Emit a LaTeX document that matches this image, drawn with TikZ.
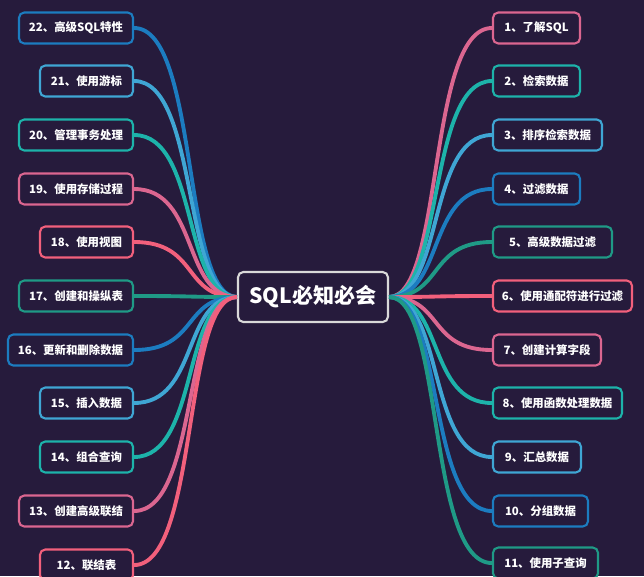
\documentclass[tikz,border=0pt]{standalone}
\usepackage{fontspec}
\setmainfont{Noto Sans CJK SC}
\usetikzlibrary{positioning}
\definecolor{bg}{HTML}{261B3C}
\definecolor{cblue}{HTML}{1C7CC0}
\definecolor{clight}{HTML}{3FA6D4}
\definecolor{cteal}{HTML}{1DB3AA}
\definecolor{cpink}{HTML}{DB6690}
\definecolor{cred}{HTML}{F2607C}
\definecolor{cdark}{HTML}{1F9A86}

\begin{document}
\begin{tikzpicture}[x=0.02cm, y=-0.02cm, topic/.style={rounded corners=3pt, line width=1.2pt, fill=bg, text=white, font=\bfseries\fontsize{6.5}{8}\selectfont, minimum height=0.62cm, inner xsep=4pt}, root/.style={rounded corners=3pt, draw=white!85!black, line width=1.2pt, fill=bg, text=white, font=\bfseries\fontsize{12}{14}\selectfont, minimum width=3cm, minimum height=1cm}]

    \fill[bg] (0,0) rectangle (644,576);
    \useasboundingbox (0,0) rectangle (644,576);

    %Nodes
    \node[root](center) at (313,297){SQL必知必会};

    \foreach \n/\y/\xl/\c/\t in {22/28/19/cblue/高级SQL特性, 21/81/40/clight/使用游标, 20/135/19/cteal/管理事务处理, 19/189/19/cpink/使用存储过程, 18/242/40/cred/使用视图, 17/296/19/cdark/创建和操纵表, 16/350/8/cblue/更新和删除数据, 15/403/40/clight/插入数据, 14/457/40/cteal/组合查询, 13/511/19/cpink/创建高级联结, 12/565/40/cred/联结表}{
        \node[topic, draw=\c, minimum width=(133-\xl)*0.02cm](l\n) at ({(133+\xl)/2},\y){\n、\t};
        \draw[\c, line width=2.2pt] (center.west) .. controls +(-55,0) and +(65,0) .. (l\n.east);
    }

    \foreach \n/\y/\xr/\c/\t in {1/28/580/cpink/了解SQL, 2/81/580/cteal/检索数据, 3/135/602/clight/排序检索数据, 4/189/580/cblue/过滤数据, 5/242/612/cdark/高级数据过滤, 6/296/632/cred/使用通配符进行过滤, 7/350/601/cpink/创建计算字段, 8/403/622/cteal/使用函数处理数据, 9/457/581/clight/汇总数据, 10/511/588/cblue/分组数据, 11/563/598/cdark/使用子查询}{
        \node[topic, draw=\c, minimum width=(\xr-493)*0.02cm](r\n) at ({(493+\xr)/2},\y){\n、\t};
        \draw[\c, line width=2.2pt] (center.east) .. controls +(55,0) and +(-65,0) .. (r\n.west);
    }

\end{tikzpicture}
\end{document}
